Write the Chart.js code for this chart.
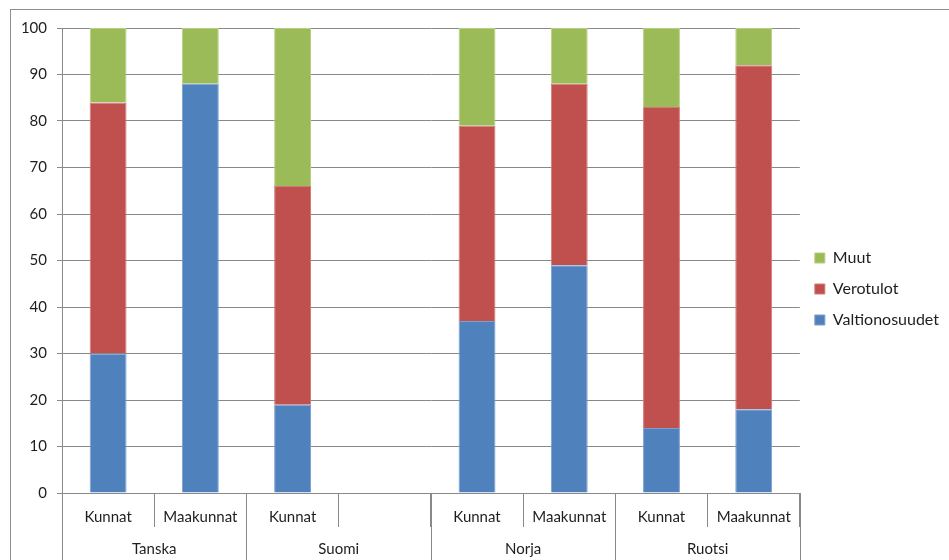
<!DOCTYPE html>
<html>
<head>
<meta charset="utf-8">
<script src="https://cdn.jsdelivr.net/npm/chart.js@4"></script>
<style>
  body { margin: 0; background: #fff; }
  canvas { display: block; }
</style>
</head>
<body>
<canvas id="rahoitusChart" width="949" height="560"></canvas>
<script>
// Data
const groups = ['Tanska', 'Suomi', 'Norja', 'Ruotsi'];
const categories = ['Kunnat', 'Maakunnat', 'Kunnat', '', 'Kunnat', 'Maakunnat', 'Kunnat', 'Maakunnat'];
const valtionosuudet = [30, 88, 19, null, 37, 49, 14, 18];
const verotulot = [54, 0, 47, null, 42, 39, 69, 74];
const muut = [16, 12, 34, null, 21, 12, 17, 8];
const yTicks = [0, 10, 20, 30, 40, 50, 60, 70, 80, 90, 100];

const gridGray = '#898989';
const textColor = '#1e1e1e';
const fontFamily = 'Lato, "Open Sans", sans-serif';

// outer frame + grouped category labels underneath the x axis
const groupAxisPlugin = {
    id: 'groupAxis',
    beforeDraw(chart) {
        const ctx = chart.ctx;
        ctx.save();
        ctx.strokeStyle = '#8f8f8f';
        ctx.lineWidth = 1;
        ctx.strokeRect(10.5, 9.5, chart.width + 10, chart.height + 10);
        ctx.restore();
    },
    afterDraw(chart) {
        const ctx = chart.ctx;
        const x = chart.scales.x;
        const area = chart.chartArea;
        const perGroup = categories.length / groups.length;
        const catWidth = x.width / categories.length;
        ctx.save();
        ctx.strokeStyle = gridGray;
        ctx.lineWidth = 1;
        ctx.fillStyle = textColor;
        ctx.font = '15px ' + fontFamily;
        ctx.textAlign = 'center';
        ctx.textBaseline = 'middle';
        for (let g = 0; g <= groups.length; g++) {
            const px = Math.round(x.left + g * perGroup * catWidth) + 0.5;
            ctx.beginPath();
            ctx.moveTo(px, area.bottom);
            ctx.lineTo(px, chart.height);
            ctx.stroke();
        }
        groups.forEach((name, g) => {
            const first = x.getPixelForValue(g * perGroup);
            const last = x.getPixelForValue(g * perGroup + perGroup - 1);
            ctx.fillText(name, (first + last) / 2, area.bottom + 56);
        });
        ctx.restore();
    }
};

const ctx = document.getElementById('rahoitusChart').getContext('2d');
const rahoitusChart = new Chart(ctx, {
    type: 'bar',
    data: {
        labels: categories,
        datasets: [{
            label: 'Valtionosuudet',
            data: valtionosuudet,
            backgroundColor: '#4F81BD',
            borderColor: '#7a9fd0',
            borderWidth: 1
        }, {
            label: 'Verotulot',
            data: verotulot,
            backgroundColor: '#C0504D',
            borderColor: '#d27a78',
            borderWidth: 1
        }, {
            label: 'Muut',
            data: muut,
            backgroundColor: '#9BBB59',
            borderColor: '#b6d07f',
            borderWidth: 1
        }]
    },
    options: {
        responsive: false,
        animation: false,
        layout: { padding: { top: 28, right: 0, left: 0, bottom: 10 } },
        datasets: { bar: { categoryPercentage: 1, barPercentage: 0.4 } },
        plugins: {
            tooltip: { enabled: false },
            legend: {
                position: 'right',
                reverse: true,
                labels: {
                    boxWidth: 10,
                    boxHeight: 10,
                    padding: 15,
                    color: textColor,
                    font: { family: fontFamily, size: 16 }
                }
            }
        },
        scales: {
            x: {
                stacked: true,
                afterFit(scale) { scale.height = 57; },
                grid: {
                    offset: true,
                    drawOnChartArea: false,
                    drawTicks: true,
                    tickLength: 34,
                    color: gridGray
                },
                border: { display: true, color: gridGray, width: 1 },
                ticks: {
                    padding: -19,
                    maxRotation: 0,
                    autoSkip: false,
                    color: textColor,
                    font: { family: fontFamily, size: 15 }
                }
            },
            y: {
                stacked: true,
                min: 0,
                max: 100,
                afterFit(scale) { scale.width = 62; },
                afterBuildTicks(scale) { scale.ticks = yTicks.map(v => ({ value: v })); },
                grid: { color: gridGray, tickLength: 5 },
                border: { display: true, color: gridGray, width: 1 },
                ticks: {
                    padding: 10,
                    color: textColor,
                    font: { family: fontFamily, size: 15 }
                }
            }
        }
    },
    plugins: [groupAxisPlugin]
});
</script>
</body>
</html>
